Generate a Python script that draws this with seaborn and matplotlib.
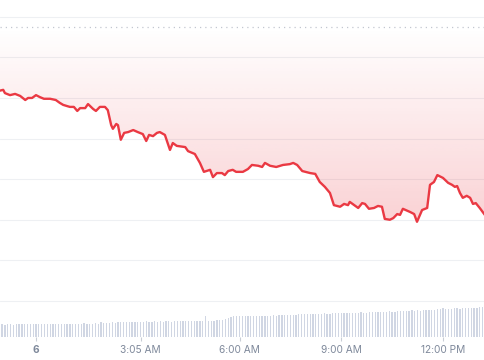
import numpy as np
import pandas as pd
import matplotlib
matplotlib.use("Agg")
import matplotlib.pyplot as plt
import seaborn as sns
from matplotlib.colors import LinearSegmentedColormap

sns.set_theme(style="white")
plt.rcParams['font.family'] = ['Inter', 'DejaVu Sans']

# ---- data (minutes from midnight, price) ----
minutes = [-64, -58, -55, -46, -37, -28, -19, -14, -7, 0, 7, 14, 25, 35, 42, 48, 55, 60, 67, 73,
           78, 87, 92, 101, 106, 113, 122, 127, 133, 136, 142, 145, 150, 156, 163, 172, 180, 189, 195, 200,
           207, 214, 219, 228, 237, 242, 249, 264, 269, 281, 290, 297, 308, 313, 320, 329, 334, 340, 348, 354,
           366, 375, 382, 393, 400, 405, 414, 425, 437, 449, 455, 462, 471, 485, 494, 502, 511, 520, 527, 538,
           545, 552, 555, 563, 570, 577, 582, 589, 598, 605, 612, 617, 626, 632, 639, 644, 649, 662, 669, 674,
           683, 692, 697, 704, 710, 720, 729, 736, 741, 745, 750, 755, 762, 768, 773, 778, 785, 794]
price = [65.18, 65.20, 65.12, 65.07, 65.10, 65.05, 64.95, 65.00, 65.00, 65.07, 65.02, 64.98, 64.98, 64.95, 64.88, 64.83, 64.80, 64.78, 64.78, 64.68,
         64.75, 64.75, 64.85, 64.73, 64.68, 64.78, 64.78, 64.70, 64.33, 64.24, 64.36, 64.33, 63.97, 64.14, 64.16, 64.21, 64.16, 64.11, 63.94, 64.09,
         64.06, 64.14, 64.16, 64.09, 63.72, 63.89, 63.82, 63.79, 63.69, 63.62, 63.40, 63.18, 63.23, 63.05, 63.15, 63.15, 63.10, 63.20, 63.23, 63.18,
         63.18, 63.25, 63.35, 63.33, 63.30, 63.40, 63.33, 63.30, 63.35, 63.37, 63.40, 63.35, 63.20, 63.15, 63.13, 62.93, 62.81, 62.66, 62.36, 62.32,
         62.39, 62.36, 62.44, 62.36, 62.29, 62.41, 62.39, 62.27, 62.29, 62.34, 62.32, 62.02, 62.00, 62.04, 62.14, 62.12, 62.27, 62.19, 62.14, 61.95,
         62.24, 62.29, 62.86, 62.93, 63.10, 63.03, 62.91, 62.86, 62.81, 62.83, 62.66, 62.54, 62.59, 62.54, 62.39, 62.41, 62.29, 62.12]
prev_close = 66.75
grid_levels = [60, 61, 62, 63, 64, 65, 66, 67]

# 5-minute volume bars starting at -65 min
vol_start = -65
vol_step = 5
volume = [13, 13, 12.5, 13, 13, 12.5, 13, 13, 13.5, 13, 13, 13,
          13, 13.5, 13, 13, 13.5, 13, 13, 13.5, 13, 13, 13.5, 13,
          13.5, 13, 13.5, 13.5, 13, 13.5, 14, 13.5, 13.5, 13.5, 14, 13.5,
          15.5, 14, 14.5, 14.5, 15, 14.5, 15, 15, 15.5, 15, 15, 15.5,
          15, 15.5, 15, 15.5, 16, 15.5, 15.5, 16, 15.5, 16, 15.5, 16,
          16, 15.5, 16, 16, 16.5, 16, 16, 16, 16.5, 16, 16.5, 16,
          16.5, 21.5, 16.5, 16.5, 16.5, 17, 17, 17.5, 18, 19, 20.5, 21,
          21.5, 21.5, 21, 21.5, 21.5, 21, 21.5, 21.5, 21, 21.5, 21.5, 21.5,
          21.5, 22, 21.5, 22, 22, 22.5, 22, 22.5, 22, 22.5, 23, 23,
          23.5, 23.5, 23, 23.5, 23.5, 23.5, 23.5, 24, 23.5, 23.5, 24, 24,
          24, 24, 24, 24.5, 24, 24.5, 24.5, 24.5, 25, 24.5, 24.5, 25,
          25, 25.5, 25, 25, 25, 25.5, 26, 25.5, 25.5, 26, 26, 26.5,
          26, 26.5, 27, 26.5, 27, 26.5, 27, 27, 27.5, 27, 27.5, 28,
          28.5, 29.5, 28.5, 28.5, 28.5, 29, 29, 28.5, 29, 29, 29, 29.5,
          29.5, 29.5, 30, 30, 30.5]

tick_minutes = [0, 185, 360, 540, 720]
tick_labels = ["6", "3:05 AM", "6:00 AM", "9:00 AM", "12:00 PM"]

LINE = '#ea3943'
W, H = 485, 360
XLIM = (-63.7, 794.3)

fig = plt.figure(figsize=(W / 100, H / 100), dpi=100)
fig.patch.set_facecolor('white')


def px_axes(top, bottom):
    a = fig.add_axes([0, (H - bottom) / H, 1, (bottom - top) / H])
    a.patch.set_alpha(0)
    for s in a.spines.values():
        s.set_visible(False)
    return a


# volume axes
axv = px_axes(297, 337)
vol_df = pd.DataFrame({'t': [vol_start + vol_step * i for i in range(len(volume))],
                       'v': volume})
sns.barplot(data=vol_df, x='t', y='v', native_scale=True, color='#d0d6e3',
            saturation=1, width=0.45, linewidth=0, ax=axv)
axv.set_xlim(*XLIM)
axv.set_ylim(0, 40)
axv.set_yticks([])
axv.set_xlabel('')
axv.set_ylabel('')
axv.set_xticks(tick_minutes, tick_labels)
axv.tick_params(axis='x', bottom=True, length=3, width=0.8, color='#c9ced6',
                labelcolor='#7f899b', labelsize=7.3, pad=2.5)
axv.get_xticklabels()[0].set_fontweight('bold')

# price axes
ax = px_axes(10, 305)
for lv in grid_levels:
    ax.axhline(lv, color='#eef0f3', lw=0.8, zorder=1)
ax.axhline(prev_close, color='#c2c7d0', lw=0.9, ls=(0, (1, 3.2)), zorder=2)

poly = ax.fill_between(minutes, price, prev_close, color='none', lw=0)
grad = np.linspace(0, 1, 256).reshape(-1, 1)
cmap = LinearSegmentedColormap.from_list(
    'g', [(234 / 255, 57 / 255, 67 / 255, 0.23), (234 / 255, 57 / 255, 67 / 255, 0.0)])
im = ax.imshow(grad, extent=[XLIM[0] - 10, XLIM[1] + 10, min(price) - 0.05, prev_close],
               origin='lower', aspect='auto', cmap=cmap, zorder=3, interpolation='bilinear')
im.set_clip_path(poly.get_paths()[0], transform=ax.transData)

sns.lineplot(x=minutes, y=price, ax=ax, color=LINE, lw=1.7, zorder=5)
ax.set_xlim(*XLIM)
ax.set_ylim(59.90, 67.167)
ax.set_xticks([])
ax.set_yticks([])
ax.set_xlabel('')
ax.set_ylabel('')

fig.savefig('out.png', dpi=100)
